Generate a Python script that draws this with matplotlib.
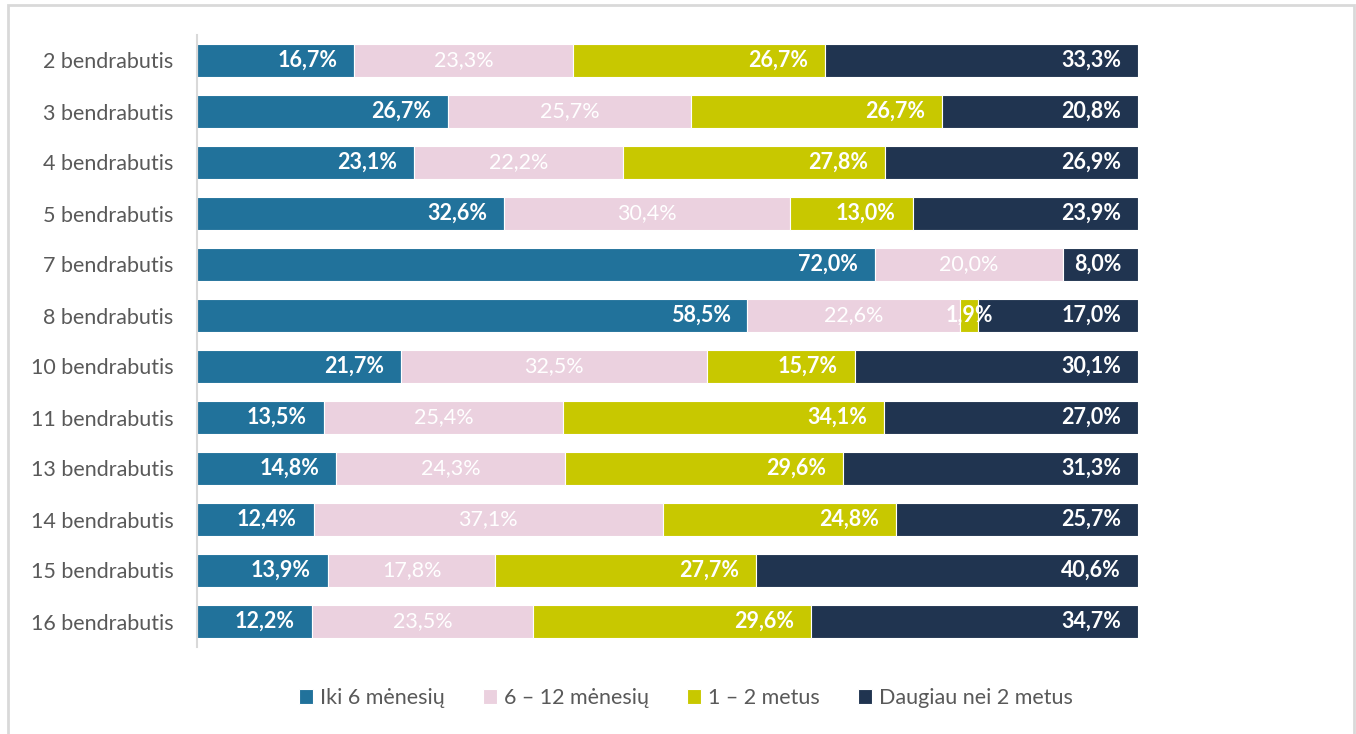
import matplotlib.pyplot as plt
import numpy as np
from matplotlib.patches import Rectangle

# categories (top to bottom) and the shares of each series, in percent
categories = ['2 bendrabutis', '3 bendrabutis', '4 bendrabutis', '5 bendrabutis',
              '7 bendrabutis', '8 bendrabutis', '10 bendrabutis', '11 bendrabutis',
              '13 bendrabutis', '14 bendrabutis', '15 bendrabutis', '16 bendrabutis']
iki_6 = [16.7, 26.7, 23.1, 32.6, 72.0, 58.5, 21.7, 13.5, 14.8, 12.4, 13.9, 12.2]
m_6_12 = [23.3, 25.7, 22.2, 30.4, 20.0, 22.6, 32.5, 25.4, 24.3, 37.1, 17.8, 23.5]
m_1_2 = [26.7, 26.7, 27.8, 13.0, 0.0, 1.9, 15.7, 34.1, 29.6, 24.8, 27.7, 29.6]
daugiau_2 = [33.3, 20.8, 26.9, 23.9, 8.0, 17.0, 30.1, 27.0, 31.3, 25.7, 40.6, 34.7]
series_names = ['Iki 6 mėnesių', '6 – 12 mėnesių', '1 – 2 metus', 'Daugiau nei 2 metus']

colors = ['#21729b', '#ebd1df', '#c8c800', '#203450']
label_weight = ['bold', 'normal', 'bold', 'bold']
label_centered = [False, True, False, False]

plt.rcParams['font.family'] = ['Lato', 'DejaVu Sans']
FS = 15.5

fig = plt.figure(figsize=(13.56, 7.34), dpi=100)
ax = fig.add_axes([197 / 1356, 1 - 647 / 734, 941 / 1356, 612 / 734])

# light frame round the chart area, like the spreadsheet export
fig.patches.append(Rectangle((8 / 1356, -0.01), 1346 / 1356, 1 - 5 / 734 + 0.01,
                             transform=fig.transFigure, fill=False,
                             edgecolor='#d9d9d9', linewidth=2))

data = np.array([iki_6, m_6_12, m_1_2, daugiau_2])
totals = data.sum(axis=0)
shares = data / totals * 100  # 100% stacked, as in the original
y = np.arange(len(categories))

left = np.zeros(len(categories))
for i in range(4):
    ax.barh(y, shares[i], left=left, height=0.65, color=colors[i],
            edgecolor='white', linewidth=0.8, label=series_names[i])
    for j in range(len(categories)):
        if data[i][j] <= 0:
            continue
        txt = f'{data[i][j]:.1f}%'.replace('.', ',')
        # labels that do not fit in their segment, and the pink ones, sit in the middle
        if label_centered[i] or shares[i][j] < 6:
            ax.text(left[j] + shares[i][j] / 2, y[j], txt, ha='center', va='center',
                    color='white', fontsize=FS, fontweight=label_weight[i])
        else:
            ax.text(left[j] + shares[i][j] - 1.8, y[j], txt, ha='right', va='center',
                    color='white', fontsize=FS, fontweight=label_weight[i])
    left += shares[i]

ax.set_xlim(0, 100)
ax.set_ylim(len(categories) - 0.5, -0.5)
ax.set_yticks(y)
ax.set_yticklabels(categories, fontsize=FS, color='#595959')
ax.set_xticks([])
ax.tick_params(axis='y', length=0, pad=17)
for side in ['top', 'right', 'bottom']:
    ax.spines[side].set_visible(False)
ax.spines['left'].set_color('#d9d9d9')
ax.spines['left'].set_linewidth(1.5)

handles, labels = ax.get_legend_handles_labels()
fig.legend(handles, labels, loc='center', bbox_to_anchor=(686 / 1356, 1 - 698 / 734),
           ncol=4, frameon=False, fontsize=FS, labelcolor='#595959',
           handlelength=0.65, handleheight=0.65, handletextpad=0.35, columnspacing=1.75)

fig.savefig('out.png', dpi=100)
